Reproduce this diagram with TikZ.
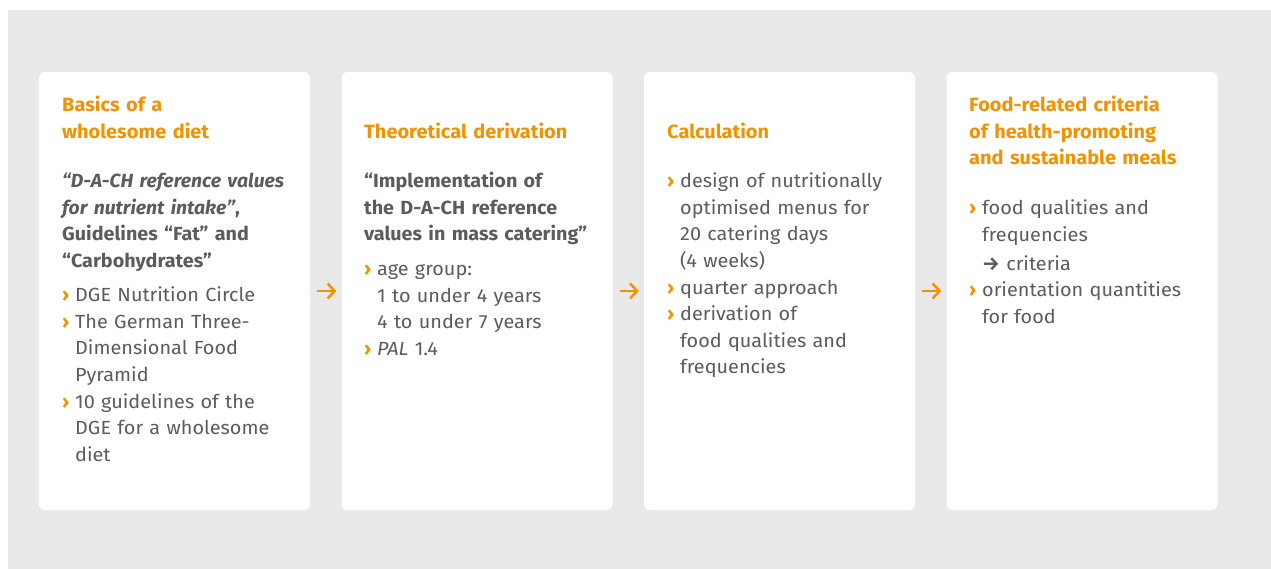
\documentclass[tikz,border=0pt]{standalone}
\usepackage{fontspec}
\setmainfont{Fira Sans}[FakeStretch=1.045,BoldFeatures={FakeStretch=1.04},BoldItalicFeatures={FakeStretch=1.02}]
\usepackage{tikz}
\usetikzlibrary{positioning, calc}
\usetikzlibrary{arrows.meta}
\definecolor{dgeorange}{RGB}{243,146,0}
\definecolor{dgegray}{RGB}{92,92,92}
\definecolor{dgebg}{RGB}{232,233,232}
\newcommand{\bul}{\makebox[13pt][l]{\textcolor{dgeorange}{\bfseries ›}}}
\newcommand{\cnt}{\hspace*{13pt}}

\begin{document}
\begin{tikzpicture}[x=1pt,y=-1pt,text=dgegray]
	\def \rowtitleone{111.5}
	\def \rowtitletwo{138.3}
	\def \rowbody{187.8}
	\tikzstyle{panel}=[fill=white,rounded corners=6pt,minimum width=271pt,minimum height=438pt,inner sep=0pt]
	\tikzstyle{ttl}=[anchor=base west,inner sep=0pt,text width=265pt,align=left,text=dgeorange,font=\fontsize{19.2}{26.6}\selectfont\bfseries]
	\tikzstyle{txt}=[anchor=base west,inner sep=0pt,text width=265pt,align=left,font=\fontsize{19}{26.6}\selectfont]
	\tikzstyle{flow}=[draw=dgeorange,line width=2.5pt,-{Straight Barb[length=7pt,width=15pt]},shorten <=7pt,shorten >=5pt]
	\useasboundingbox (0,0) rectangle (1271,569);
	\fill[dgebg] (8,10) rectangle (1271,569);

	% panels
	\node[panel] 	(box1)	at (174.5,291)	{};
	\node[panel] 	(box2)	at (477,291)	{};
	\node[panel] 	(box3)	at (779.5,291)	{};
	\node[panel] 	(box4)	at (1082,291)	{};

	% titles
	\node[ttl] 	(ttl1)	at (62,\rowtitleone)	{Basics of a\\wholesome diet};
	\node[ttl] 	(ttl2)	at (364,\rowtitletwo)	{Theoretical derivation};
	\node[ttl] 	(ttl3)	at (667,\rowtitletwo)	{Calculation};
	\node[ttl] 	(ttl4)	at (969,\rowtitleone)	{Food-related criteria\\of health-promoting\\and sustainable meals};

	% contents
	\node[txt] 	(txt1)	at (62,\rowbody)	{{\bfseries\itshape “D-A-CH reference values\\for nutrient intake”}{\bfseries ,}\\
		{\bfseries Guidelines “Fat” and\\“Carbohydrates”}\\[7.5pt]
		\bul DGE Nutrition Circle\\
		\bul The German Three-\\\cnt Dimensional Food\\\cnt Pyramid\\
		\bul 10 guidelines of the\\\cnt DGE for a wholesome\\\cnt diet};
	\node[txt] 	(txt2)	at (364,\rowbody)	{{\bfseries “Implementation of\\the D-A-CH reference\\values in mass catering”}\\[8pt]
		\bul age group:\\\cnt 1 to under 4 years\\\cnt 4 to under 7 years\\
		\bul \textit{PAL} 1.4};
	\node[txt] 	(txt3)	at (667,\rowbody)	{\bul design of nutritionally\\\cnt optimised menus for\\\cnt 20 catering days\\\cnt (4 weeks)\\
		\bul quarter approach\\
		\bul derivation of\\\cnt food qualities and\\\cnt frequencies};
	\node[txt] 	(txt4)	at (969,214.5)	{\bul food qualities and\\\cnt frequencies\\[2.5pt]
		\cnt {\bfseries →} criteria\\
		\bul orientation quantities\\\cnt for food};

	\path (box1)	edge[flow]	(box2)
		(box2)	edge[flow]	(box3)
		(box3)	edge[flow]	(box4);
\end{tikzpicture}
\end{document}
